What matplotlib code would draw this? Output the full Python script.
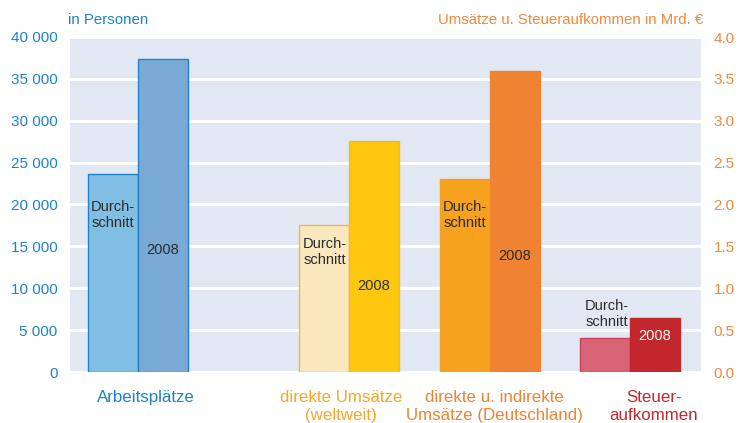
import matplotlib.pyplot as plt

plt.rcParams['font.family'] = ['Liberation Sans', 'DejaVu Sans']

# left axis: persons, right axis: bn EUR
jobs_avg = 23600
jobs_2008 = 37400
groups = ['direkte Umsätze\n(weltweit)', 'direkte u. indirekte\nUmsätze (Deutschland)', 'Steuer-\naufkommen']
money_avg = [1.75, 2.30, 0.41]
money_2008 = [2.76, 3.59, 0.65]
left_ticks = [0, 5000, 10000, 15000, 20000, 25000, 30000, 35000, 40000]
right_ticks = [0.0, 0.5, 1.0, 1.5, 2.0, 2.5, 3.0, 3.5, 4.0]

blue = '#1E82C8'
fig = plt.figure(figsize=(7.41, 4.23), dpi=100)
ax = fig.add_axes([70 / 741, 1 - 372 / 423, 631 / 741, 335 / 423])
ax2 = ax.twinx()

ax.set_facecolor('#E1E8F4')
ax.set_ylim(0, 40000)
ax2.set_ylim(0, 4.0)
ax.set_xlim(0, 631)
ax.set_yticks(left_ticks)
ax.set_yticklabels([f'{t:,}'.replace(',', ' ') for t in left_ticks])
ax2.set_yticks(right_ticks)
ax2.set_yticklabels([f'{t:.1f}' for t in right_ticks])
ax.grid(axis='y', color='white', linewidth=2.2)
ax.set_axisbelow(True)
ax.set_xticks([])
for a in (ax, ax2):
    for s in a.spines.values():
        s.set_visible(False)
ax.tick_params(axis='y', length=0, pad=9, labelsize=11, labelcolor=blue)
ax2.tick_params(axis='y', length=0, pad=9, labelsize=11, labelcolor='#F08A3A')

w = 50
centers = [68, 279, 420, 560]
avg_fc = ['#F9E7BE', '#F6A21E', '#D86475']
avg_ec = ['#F5B445', '#F6A21E', '#C94257']
new_fc = ['#FDC70E', '#EF8331', '#C1272D']
new_ec = ['#F6B82A', '#EF8331', '#C1272D']

ax.bar(centers[0] - w / 2, jobs_avg, width=w, color='#80BFE3', edgecolor=blue, linewidth=1)
ax.bar(centers[0] + w / 2, jobs_2008, width=w, color='#79AAD5', edgecolor=blue, linewidth=1)
for i in range(3):
    c = centers[i + 1]
    ax2.bar(c - w / 2, money_avg[i], width=w, color=avg_fc[i], edgecolor=avg_ec[i], linewidth=1)
    ax2.bar(c + w / 2, money_2008[i], width=w, color=new_fc[i], edgecolor=new_ec[i], linewidth=1)

# labels inside bars
dark = '#2B2B2B'
lab_avg_y = [18750, 14330, 18750, 6925]
lab_new_y = [14570, 10270, 13850, 4300]
lab_avg_x = [centers[0] - 25, centers[1] - 24, centers[2] - 25, centers[3] - 23]
for i in range(4):
    ax2.text(lab_avg_x[i], lab_avg_y[i] / 10000, 'Durch-\nschnitt', ha='center', va='center',
             fontsize=10.5, color=dark, linespacing=1.2)
    ax2.text(centers[i] + 25, lab_new_y[i] / 10000, '2008', ha='center', va='center',
             fontsize=10.5, color='white' if i == 3 else dark)

# category labels
cat_names = ['Arbeitsplätze'] + groups
cat_x = [centers[0] + 8, centers[1] - 8, centers[2] + 4, centers[3] + 24]
cat_col = [blue, '#F8A623', '#EF8331', '#C1272D']
for i in range(4):
    ax.text(cat_x[i], -2100, cat_names[i], ha='center', va='top', fontsize=12.2,
            color=cat_col[i], linespacing=1.25, clip_on=False)

fig.text(68 / 741, 1 - 20 / 423, 'in Personen', ha='left', va='center', fontsize=10.8, color=blue)
fig.text(703 / 741, 1 - 20 / 423, 'Umsätze u. Steueraufkommen in Mrd. €', ha='right', va='center',
         fontsize=10.8, color='#F08A3A')

fig.savefig('out.png', dpi=100)
